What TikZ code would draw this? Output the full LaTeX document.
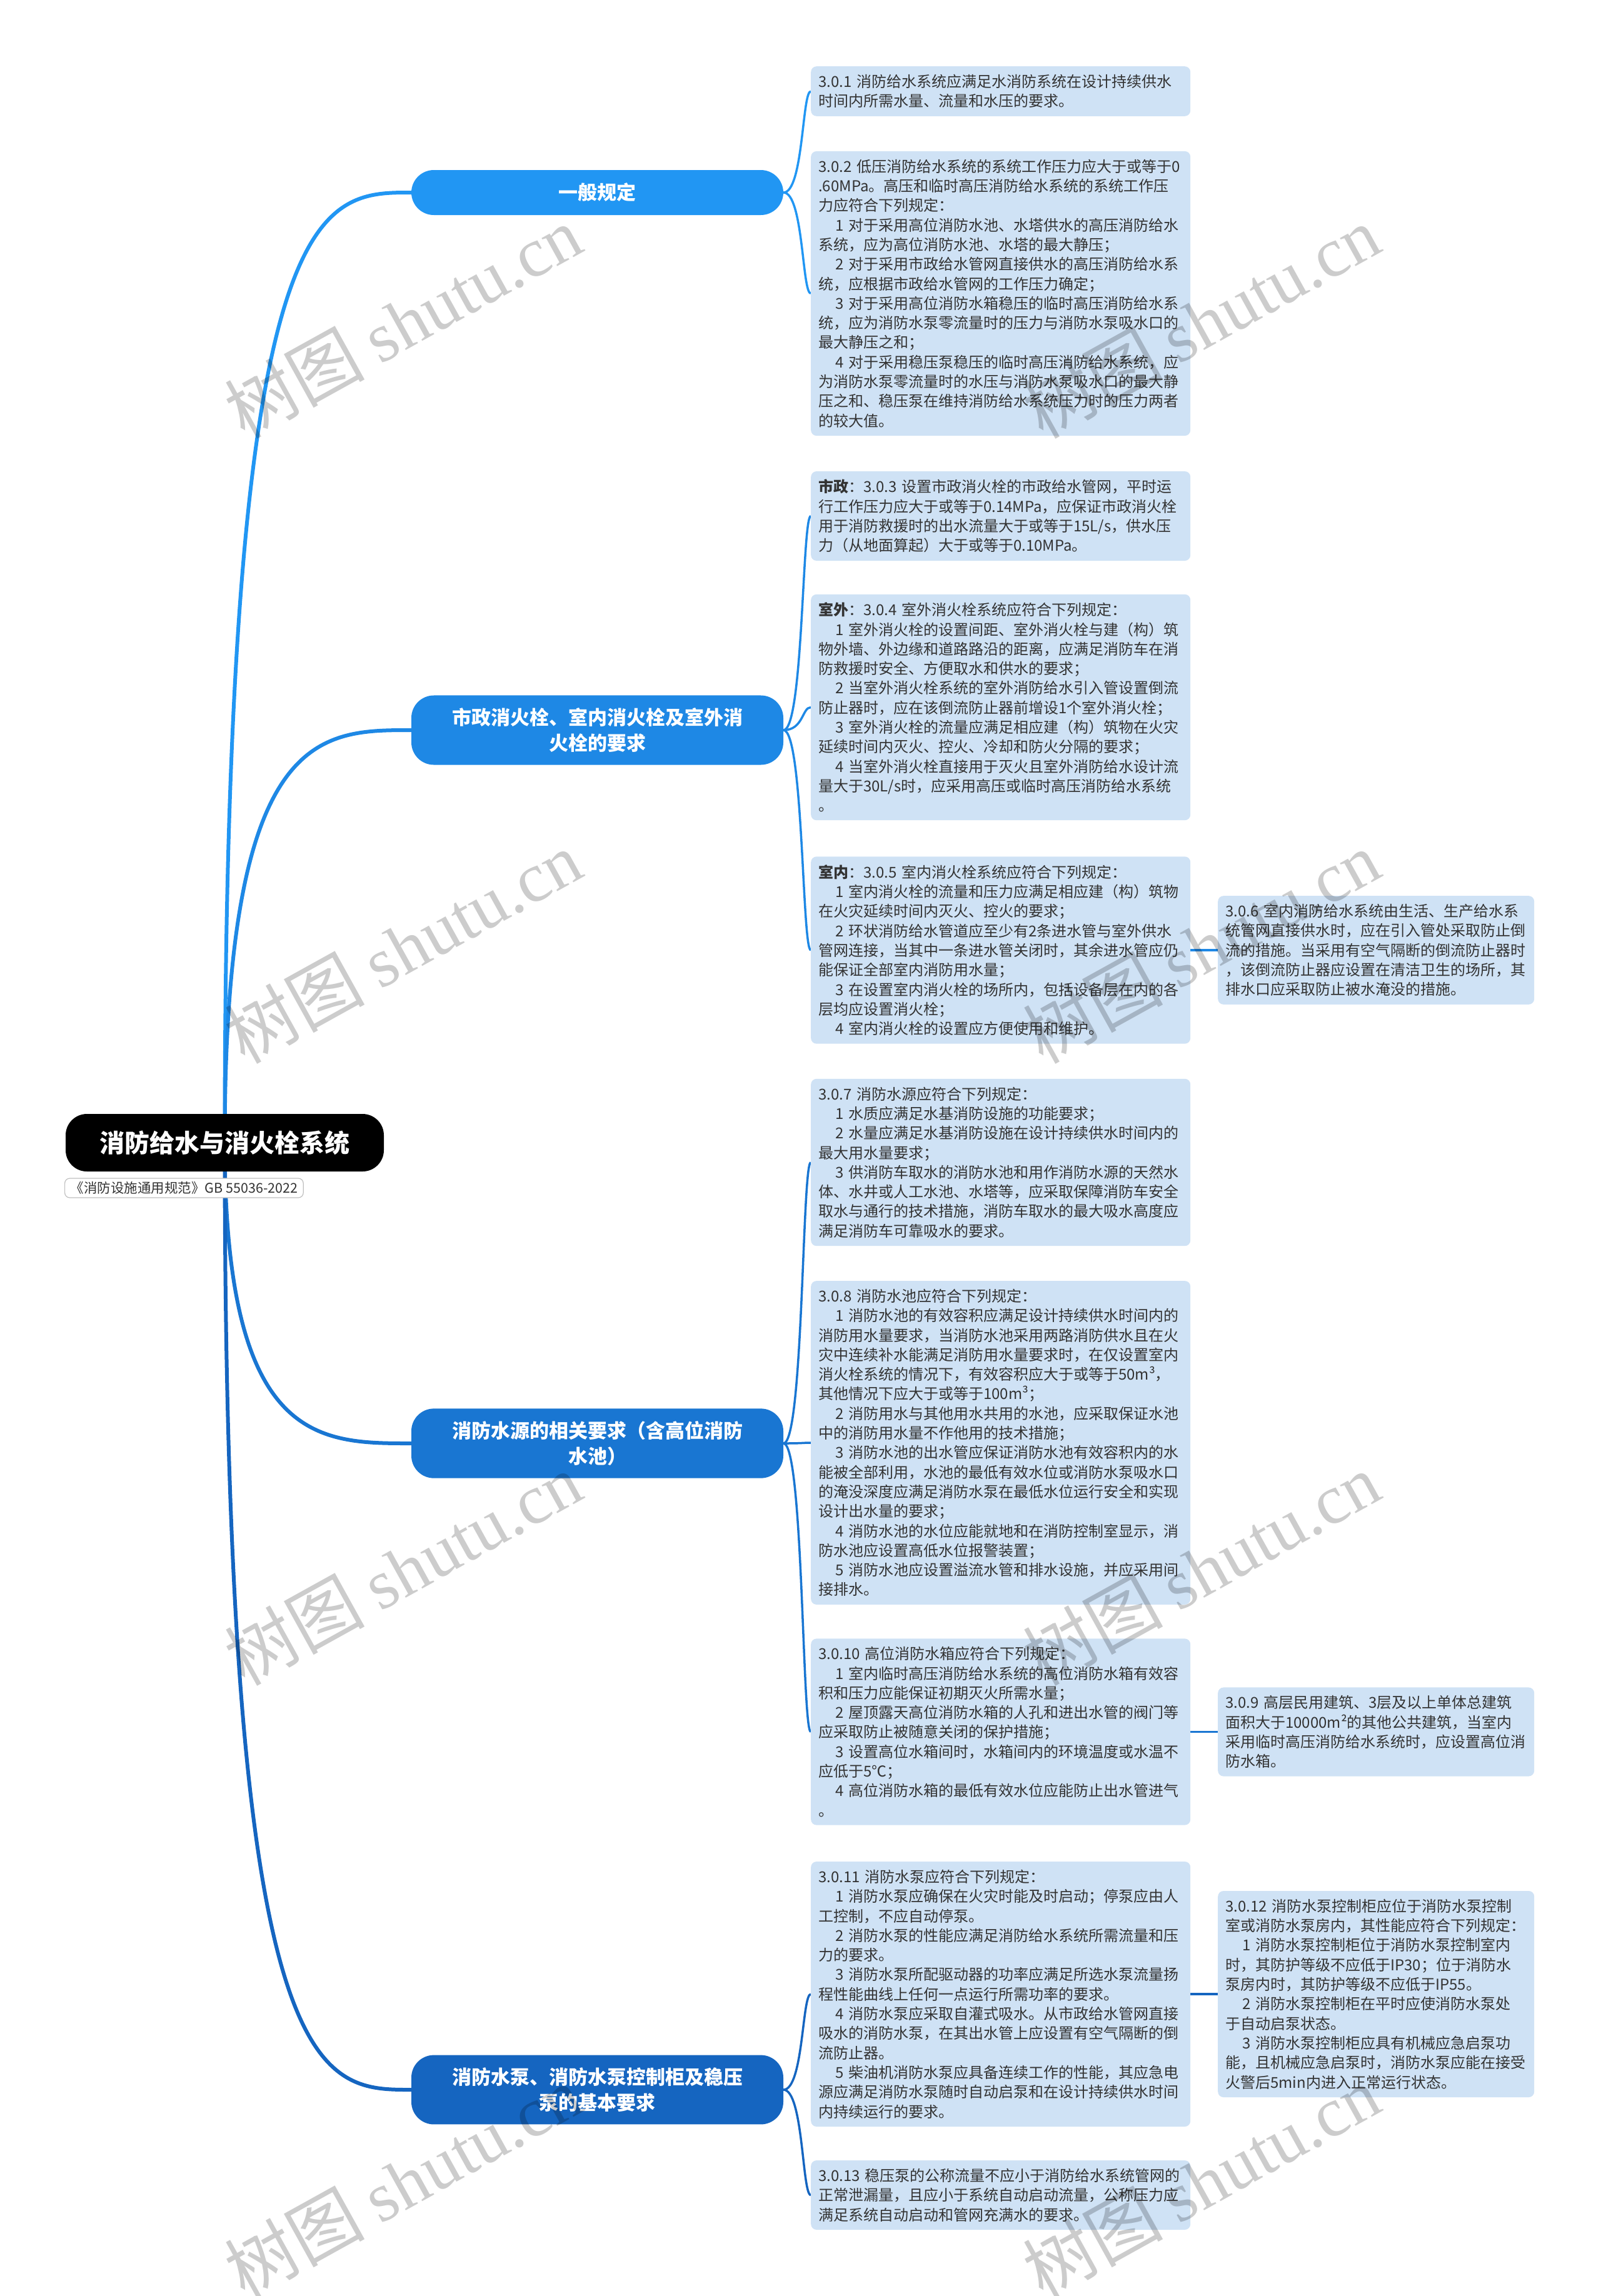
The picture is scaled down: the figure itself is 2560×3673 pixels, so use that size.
\documentclass[tikz,border=0pt]{standalone}
\usepackage{fontspec}
\setmainfont{Noto Sans CJK SC}
\newfontfamily\wmfont{Liberation Serif}
\usetikzlibrary{calc,backgrounds}
\definecolor{cA}{HTML}{2196F3}
\definecolor{cB}{HTML}{1E88E5}
\definecolor{cC}{HTML}{1976D2}
\definecolor{cD}{HTML}{1565C0}
\definecolor{leaffill}{HTML}{CFE2F5}
\definecolor{leaftext}{HTML}{333333}
\newcommand{\myind}{\hspace*{27pt}}
\begin{document}
\begin{tikzpicture}[x=1pt,y=-1pt,
  leaf/.style={fill=leaffill, rounded corners=9pt, text width=583pt, inner xsep=12pt, inner ysep=13pt, align=left, font=\fontsize{24}{31.3}\selectfont, text=leaftext, anchor=west},
  leafs/.style={leaf, text width=482pt},
  branch/.style={fill=#1, text=white, rounded corners=36pt, minimum width=595pt, minimum height=72pt, inner ysep=20pt, align=center, font=\bfseries\fontsize{31}{41}\selectfont},
  rootnode/.style={fill=black, text=white, rounded corners=34pt, minimum width=509pt, minimum height=92pt, font=\bfseries\fontsize{40}{48}\selectfont},
  subt/.style={draw=black!25, line width=1.2pt, fill=white, rounded corners=8pt, text=leaftext, inner xsep=9pt, minimum height=31pt, inner ysep=4pt, font=\fontsize{21.5}{24}\selectfont, anchor=west},
  rootc/.style={draw=#1, line width=6pt},
  leafc/.style={draw=#1, line width=3.5pt},
  wm/.style={text=black, opacity=0.2, rotate=29, font=\fontsize{112}{120}\selectfont}
]
\useasboundingbox (0,0) rectangle (2560,3673);

% root
\node[rootnode] (root) at (359.5,1828) {消防给水与消火栓系统};
\node[subt] (sub) at (103,1900.5) {《消防设施通用规范》GB 55036-2022};

% branches
\node[branch=cA] (b1) at (955.5,308) {一般规定};
\node[branch=cB] (b2) at (955.5,1168) {市政消火栓、室内消火栓及室外消\\火栓的要求};
\node[branch=cC] (b3) at (955.5,2309) {消防水源的相关要求（含高位消防\\水池）};
\node[branch=cD] (b4) at (955.5,3343) {消防水泵、消防水泵控制柜及稳压\\泵的基本要求};

% leaves
\node[leaf] (l301) at (1297,146) {3.0.1 消防给水系统应满足水消防系统在设计持续供水\\时间内所需水量、流量和水压的要求。};
\node[leaf] (l302) at (1297,469.5) {3.0.2 低压消防给水系统的系统工作压力应大于或等于0\\.60MPa。高压和临时高压消防给水系统的系统工作压\\力应符合下列规定：\\\myind 1 对于采用高位消防水池、水塔供水的高压消防给水\\系统，应为高位消防水池、水塔的最大静压；\\\myind 2 对于采用市政给水管网直接供水的高压消防给水系\\统，应根据市政给水管网的工作压力确定；\\\myind 3 对于采用高位消防水箱稳压的临时高压消防给水系\\统，应为消防水泵零流量时的压力与消防水泵吸水口的\\最大静压之和；\\\myind 4 对于采用稳压泵稳压的临时高压消防给水系统，应\\为消防水泵零流量时的水压与消防水泵吸水口的最大静\\压之和、稳压泵在维持消防给水系统压力时的压力两者\\的较大值。};
\node[leaf] (l303) at (1297,825.5) {{\bfseries 市政}：3.0.3 设置市政消火栓的市政给水管网，平时运\\行工作压力应大于或等于0.14MPa，应保证市政消火栓\\用于消防救援时的出水流量大于或等于15L/s，供水压\\力（从地面算起）大于或等于0.10MPa。};
\node[leaf] (l304) at (1297,1131.5) {{\bfseries 室外}：3.0.4 室外消火栓系统应符合下列规定：\\\myind 1 室外消火栓的设置间距、室外消火栓与建（构）筑\\物外墙、外边缘和道路路沿的距离，应满足消防车在消\\防救援时安全、方便取水和供水的要求；\\\myind 2 当室外消火栓系统的室外消防给水引入管设置倒流\\防止器时，应在该倒流防止器前增设1个室外消火栓；\\\myind 3 室外消火栓的流量应满足相应建（构）筑物在火灾\\延续时间内灭火、控火、冷却和防火分隔的要求；\\\myind 4 当室外消火栓直接用于灭火且室外消防给水设计流\\量大于30L/s时，应采用高压或临时高压消防给水系统\\。};
\node[leaf] (l305) at (1297,1520) {{\bfseries 室内}：3.0.5 室内消火栓系统应符合下列规定：\\\myind 1 室内消火栓的流量和压力应满足相应建（构）筑物\\在火灾延续时间内灭火、控火的要求；\\\myind 2 环状消防给水管道应至少有2条进水管与室外供水\\管网连接，当其中一条进水管关闭时，其余进水管应仍\\能保证全部室内消防用水量；\\\myind 3 在设置室内消火栓的场所内，包括设备层在内的各\\层均应设置消火栓；\\\myind 4 室内消火栓的设置应方便使用和维护。};
\node[leafs] (l306) at (1948,1520) {3.0.6 室内消防给水系统由生活、生产给水系\\统管网直接供水时，应在引入管处采取防止倒\\流的措施。当采用有空气隔断的倒流防止器时\\，该倒流防止器应设置在清洁卫生的场所，其\\排水口应采取防止被水淹没的措施。};
\node[leaf] (l307) at (1297,1859.5) {3.0.7 消防水源应符合下列规定：\\\myind 1 水质应满足水基消防设施的功能要求；\\\myind 2 水量应满足水基消防设施在设计持续供水时间内的\\最大用水量要求；\\\myind 3 供消防车取水的消防水池和用作消防水源的天然水\\体、水井或人工水池、水塔等，应采取保障消防车安全\\取水与通行的技术措施，消防车取水的最大吸水高度应\\满足消防车可靠吸水的要求。};
\node[leaf] (l308) at (1297,2308) {3.0.8 消防水池应符合下列规定：\\\myind 1 消防水池的有效容积应满足设计持续供水时间内的\\消防用水量要求，当消防水池采用两路消防供水且在火\\灾中连续补水能满足消防用水量要求时，在仅设置室内\\消火栓系统的情况下，有效容积应大于或等于50m³，\\其他情况下应大于或等于100m³；\\\myind 2 消防用水与其他用水共用的水池，应采取保证水池\\中的消防用水量不作他用的技术措施；\\\myind 3 消防水池的出水管应保证消防水池有效容积内的水\\能被全部利用，水池的最低有效水位或消防水泵吸水口\\的淹没深度应满足消防水泵在最低水位运行安全和实现\\设计出水量的要求；\\\myind 4 消防水池的水位应能就地和在消防控制室显示，消\\防水池应设置高低水位报警装置；\\\myind 5 消防水池应设置溢流水管和排水设施，并应采用间\\接排水。};
\node[leaf] (l310) at (1297,2770.5) {3.0.10 高位消防水箱应符合下列规定：\\\myind 1 室内临时高压消防给水系统的高位消防水箱有效容\\积和压力应能保证初期灭火所需水量；\\\myind 2 屋顶露天高位消防水箱的人孔和进出水管的阀门等\\应采取防止被随意关闭的保护措施；\\\myind 3 设置高位水箱间时，水箱间内的环境温度或水温不\\应低于5℃；\\\myind 4 高位消防水箱的最低有效水位应能防止出水管进气\\。};
\node[leafs] (l309) at (1948,2770.5) {3.0.9 高层民用建筑、3层及以上单体总建筑\\面积大于10000m²的其他公共建筑，当室内\\采用临时高压消防给水系统时，应设置高位消\\防水箱。};
\node[leaf] (l311) at (1297,3190) {3.0.11 消防水泵应符合下列规定：\\\myind 1 消防水泵应确保在火灾时能及时启动；停泵应由人\\工控制，不应自动停泵。\\\myind 2 消防水泵的性能应满足消防给水系统所需流量和压\\力的要求。\\\myind 3 消防水泵所配驱动器的功率应满足所选水泵流量扬\\程性能曲线上任何一点运行所需功率的要求。\\\myind 4 消防水泵应采取自灌式吸水。从市政给水管网直接\\吸水的消防水泵，在其出水管上应设置有空气隔断的倒\\流防止器。\\\myind 5 柴油机消防水泵应具备连续工作的性能，其应急电\\源应满足消防水泵随时自动启泵和在设计持续供水时间\\内持续运行的要求。};
\node[leafs] (l312) at (1948,3190) {3.0.12 消防水泵控制柜应位于消防水泵控制\\室或消防水泵房内，其性能应符合下列规定：\\\myind 1 消防水泵控制柜位于消防水泵控制室内\\时，其防护等级不应低于IP30；位于消防水\\泵房内时，其防护等级不应低于IP55。\\\myind 2 消防水泵控制柜在平时应使消防水泵处\\于自动启泵状态。\\\myind 3 消防水泵控制柜应具有机械应急启泵功\\能，且机械应急启泵时，消防水泵应能在接受\\火警后5min内进入正常运行状态。};
\node[leaf] (l313) at (1297,3511.5) {3.0.13 稳压泵的公称流量不应小于消防给水系统管网的\\正常泄漏量，且应小于系统自动启动流量，公称压力应\\满足系统自动启动和管网充满水的要求。};

% helper coordinates for root curves
\coordinate (k1) at (root.center |- b1.west);
\coordinate (k2) at (root.center |- b2.west);
\coordinate (k3) at (root.center |- b3.west);
\coordinate (k4) at (root.center |- b4.west);

\begin{scope}[on background layer]
\fill[white] (0,0) rectangle (2560,3673);
\draw[rootc=cA] (root.center) .. controls (k1) and ($(k1)!0.5!(b1.west)$) .. (b1.west);
\draw[rootc=cB] (root.center) .. controls (k2) and ($(k2)!0.5!(b2.west)$) .. (b2.west);
\draw[rootc=cC] (root.center) .. controls (k3) and ($(k3)!0.5!(b3.west)$) .. (b3.west);
\draw[rootc=cD] (root.center) .. controls (k4) and ($(k4)!0.5!(b4.west)$) .. (b4.west);

\foreach \t in {l301,l302} \draw[leafc=cA] (b1.east) .. controls +(32,0) and +(-14,0) .. (\t.west);
\foreach \t in {l303,l304,l305} \draw[leafc=cB] (b2.east) .. controls +(32,0) and +(-14,0) .. (\t.west);
\foreach \t in {l307,l308,l310} \draw[leafc=cC] (b3.east) .. controls +(32,0) and +(-14,0) .. (\t.west);
\foreach \t in {l311,l313} \draw[leafc=cD] (b4.east) .. controls +(32,0) and +(-14,0) .. (\t.west);
\draw[leafc=cB] (l305.east) -- (l306.west);
\draw[leafc=cC] (l310.east) -- (l309.west);
\draw[leafc=cD] (l311.east) -- (l312.west);
\end{scope}

% watermarks
\foreach \x/\y [count=\i] in {644/515, 1921/515, 644/1515, 1921/1515, 644/2510, 1921/2510, 644/3490, 1921/3490}
  \node[wm] (wm\i) at (\x,\y) {树图 {\wmfont shutu.cn}};
\end{tikzpicture}
\end{document}
